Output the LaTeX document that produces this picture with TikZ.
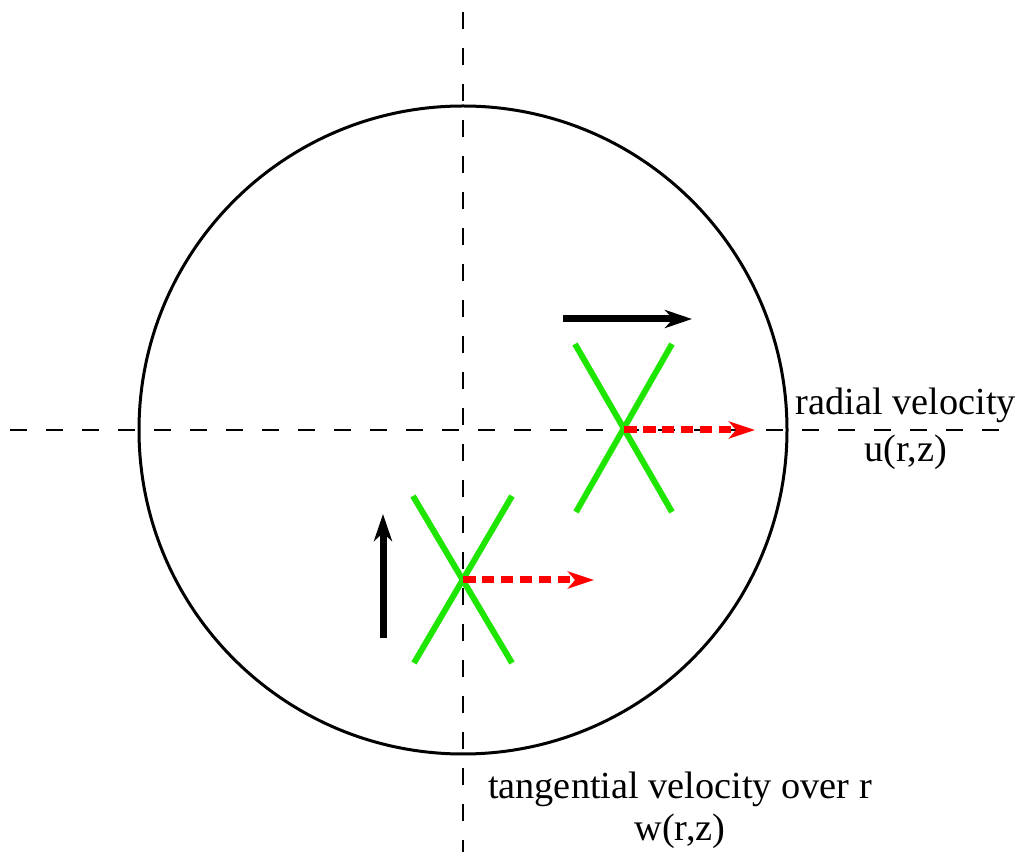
\documentclass[tikz,border=0pt]{standalone}
\usepackage{fontspec}
\setmainfont{Liberation Serif}
\usetikzlibrary{arrows.meta}
\begin{document}
\begin{tikzpicture}[x=0.02cm,y=-0.02cm,
  axis/.style={draw=black,line width=0.04cm,dash pattern=on 0.34cm off 0.38cm},
  rim/.style={draw=black,line width=0.06cm},
  blackarrow/.style={draw=black,line width=0.14cm,-{Stealth[length=0.54cm,width=0.36cm,inset=0.16cm]}},
  redarrow/.style={draw=red,line width=0.14cm,dash pattern=on 0.25cm off 0.13cm,-{Stealth[length=0.52cm,width=0.34cm,inset=0.14cm]}},
  greenline/.style={draw={rgb,255:red,30;green,230;blue,0},line width=0.12cm},
  lbl/.style={inner sep=0pt,anchor=base,font=\fontsize{21.8}{26}\selectfont}]
\useasboundingbox (0,0) rectangle (1021,857);
% axes
\coordinate (vtop) at (463,12);
\coordinate (vbot) at (463,852);
\coordinate (hleft) at (10,430);
\coordinate (hright) at (1015,430);
\draw[axis] (vtop) -- (vbot);
\draw[axis] (hleft) -- (hright);
% circle
\coordinate (c) at (463,430);
\draw[rim] (c) circle[radius=324];
% upper X
\coordinate (u1) at (575,344);
\coordinate (u2) at (672,512);
\coordinate (u3) at (672,344);
\coordinate (u4) at (576,512);
\coordinate (ux) at (624,430);
\draw[greenline] (u1) -- (u2);
\draw[greenline] (u3) -- (u4);
\coordinate (ur) at (755,430);
\draw[redarrow] (ux) -- (ur);
\coordinate (ba1) at (563,319);
\coordinate (ba2) at (692,319);
\draw[blackarrow] (ba1) -- (ba2);
% lower X
\coordinate (l1) at (413,496);
\coordinate (l2) at (512,663);
\coordinate (l3) at (512,496);
\coordinate (l4) at (414,663);
\coordinate (lx) at (463,580);
\draw[greenline] (l1) -- (l2);
\draw[greenline] (l3) -- (l4);
\coordinate (lr) at (594,580);
\draw[redarrow] (lx) -- (lr);
\coordinate (va1) at (383,638);
\coordinate (va2) at (383,514);
\draw[blackarrow] (va1) -- (va2);
% labels
\node[lbl] (rad) at (906,415) {radial velocity};
\node[lbl] (u) at (906,462) {u(r,z)};
\node[lbl] (tan) at (680,798) {tangential velocity over r};
\node[lbl] (w) at (680,840) {w(r,z)};
\end{tikzpicture}
\end{document}
